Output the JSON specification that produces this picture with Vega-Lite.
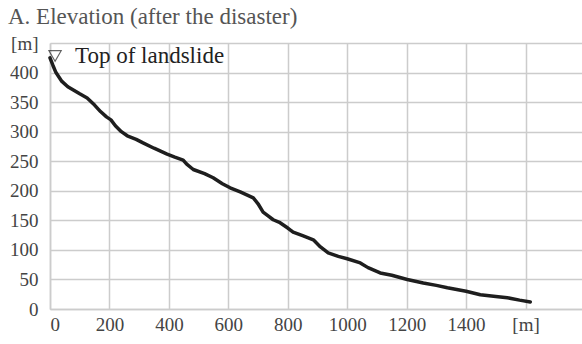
{
  "$schema": "https://vega.github.io/schema/vega-lite/v6.json",
  "autosize": {"type": "none"},
  "padding": {"left": 50, "top": 43, "right": 0, "bottom": 35},
  "width": 532,
  "height": 266,
  "background": "white",
  "title": {
    "text": "A. Elevation (after the disaster)",
    "anchor": "start",
    "frame": "group",
    "dx": -42,
    "dy": 31,
    "baseline": "alphabetic",
    "offset": 18,
    "font": "Liberation Serif",
    "fontSize": 23,
    "fontWeight": "normal",
    "color": "#555555"
  },
  "config": {
    "view": {"stroke": null},
    "axis": {
      "labelFont": "Liberation Serif",
      "labelFontSize": 19,
      "labelColor": "#444444",
      "labelOverlap": false,
      "gridColor": "#cccccc",
      "gridWidth": 1.5,
      "domainColor": "#cccccc",
      "domainWidth": 1.5,
      "ticks": false,
      "title": null
    }
  },
  "encoding": {
    "x": {
      "field": "d", "type": "quantitative",
      "scale": {"domain": [0, 1790], "nice": false},
      "axis": {
        "values": [0, 200, 400, 600, 800, 1000, 1200, 1400, 1600],
        "labelExpr": "datum.value == 1600 ? '[m]' : datum.label",
        "labelPadding": 6,
        "format": "d"
      }
    },
    "y": {
      "field": "e", "type": "quantitative",
      "scale": {"domain": [0, 450], "nice": false},
      "axis": {
        "values": [0, 50, 100, 150, 200, 250, 300, 350, 400, 450],
        "labelExpr": "datum.value == 450 ? '[m]' : datum.label",
        "labelPadding": 12,
        "labelOverlap": false,
        "format": "d"
      }
    }
  },
  "layer": [
    {
      "data": {"values": [
        {"d": 0, "e": 425}, {"d": 10, "e": 412}, {"d": 20, "e": 400}, {"d": 40, "e": 385},
        {"d": 60, "e": 376}, {"d": 80, "e": 370}, {"d": 100, "e": 364}, {"d": 125, "e": 357},
        {"d": 150, "e": 345}, {"d": 170, "e": 334}, {"d": 190, "e": 325}, {"d": 205, "e": 320},
        {"d": 220, "e": 310}, {"d": 240, "e": 300}, {"d": 260, "e": 293}, {"d": 290, "e": 287},
        {"d": 313, "e": 281}, {"d": 350, "e": 272}, {"d": 394, "e": 262}, {"d": 420, "e": 257},
        {"d": 448, "e": 252}, {"d": 460, "e": 245}, {"d": 482, "e": 236}, {"d": 520, "e": 229},
        {"d": 549, "e": 222}, {"d": 580, "e": 212}, {"d": 606, "e": 205}, {"d": 640, "e": 198},
        {"d": 684, "e": 188}, {"d": 700, "e": 178}, {"d": 717, "e": 164}, {"d": 735, "e": 157},
        {"d": 751, "e": 151}, {"d": 774, "e": 146}, {"d": 800, "e": 137}, {"d": 818, "e": 130},
        {"d": 850, "e": 124}, {"d": 886, "e": 117}, {"d": 910, "e": 105}, {"d": 936, "e": 95},
        {"d": 970, "e": 89}, {"d": 1000, "e": 85}, {"d": 1044, "e": 78}, {"d": 1070, "e": 70},
        {"d": 1111, "e": 61}, {"d": 1150, "e": 57}, {"d": 1202, "e": 50}, {"d": 1256, "e": 44},
        {"d": 1300, "e": 40}, {"d": 1337, "e": 36}, {"d": 1400, "e": 30}, {"d": 1448, "e": 24},
        {"d": 1500, "e": 21}, {"d": 1539, "e": 19}, {"d": 1580, "e": 15}, {"d": 1616, "e": 12}
      ]},
      "mark": {"type": "line", "color": "#1e1e1e", "strokeWidth": 3.5, "strokeJoin": "round", "strokeCap": "round"}
    },
    {
      "data": {"values": [{"d": 17, "e": 428}]},
      "mark": {"type": "point", "shape": "triangle-down", "filled": false, "stroke": "#222222", "strokeWidth": 1.2, "size": 150}
    },
    {
      "data": {"values": [{"d": 84, "e": 428, "t": "Top of landslide"}]},
      "mark": {"type": "text", "align": "left", "baseline": "middle", "font": "Liberation Serif", "fontSize": 23, "color": "#222222"},
      "encoding": {
        "text": {"field": "t"}
      }
    }
  ]
}
